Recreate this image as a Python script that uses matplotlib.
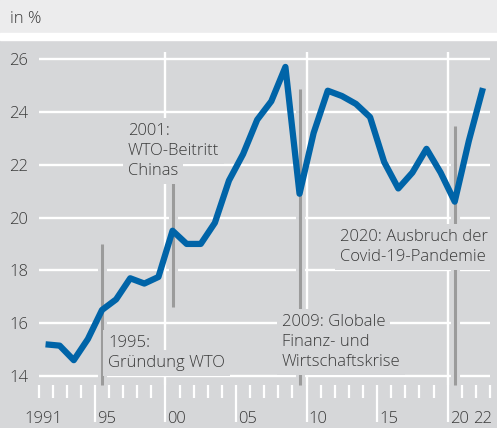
import matplotlib.pyplot as plt
import matplotlib.patheffects as pe
from matplotlib.patches import Rectangle
from matplotlib.transforms import offset_copy

years = list(range(1991, 2023))
share = [15.2, 15.15, 14.6, 15.4, 16.5, 16.9, 17.7, 17.5, 17.75, 19.5,
         19.0, 19.0, 19.8, 21.4, 22.4, 23.7, 24.4, 25.7, 20.9, 23.2,
         24.8, 24.6, 24.3, 23.8, 22.1, 21.1, 21.7, 22.6, 21.7, 20.6,
         22.9, 24.9]
yticks = [14, 16, 18, 20, 22, 24, 26]
xlabels = ['1991', '95', '00', '05', '10', '15', '20', '22']
xlabel_pos = [1991.35, 1995.15, 2000.15, 2005.15, 2010.15, 2015.15, 2020.15, 2022.5]
xlabel_ha = ['center', 'left', 'left', 'left', 'left', 'left', 'left', 'center']

# events: (x of marker line, top, bottom, text x, first baseline, lines)
events = [
    (1995.5, 19.0, 13.66, 1995.92, 15.10, ['1995:', 'Gründung WTO']),
    (2000.5, 21.34, 16.61, 1997.34, 23.12, ['2001:', 'WTO-Beitritt', 'Chinas']),
    (2009.5, 24.86, 13.66, 2008.24, 15.89, ['2009: Globale', 'Finanz- und', 'Wirtschaftskrise']),
    (2020.5, 23.46, 13.66, 2012.35, 19.11, ['2020: Ausbruch der', 'Covid-19-Pandemie']),
]

bg = '#d6d7d9'
txt = '#3a3a3a'
plt.rcParams['font.family'] = ['Open Sans', 'DejaVu Sans']
plt.rcParams['font.weight'] = 'light'

fig = plt.figure(figsize=(4.97, 4.28), dpi=100, facecolor=bg)
fig.patches.append(Rectangle((0, 1 - 33 / 428), 1, 33 / 428, transform=fig.transFigure,
                             color='#ececed', zorder=0))
fig.patches.append(Rectangle((0, 1 - 40 / 428), 1, 7 / 428, transform=fig.transFigure,
                             color='white', zorder=0))
fig.text(10 / 497, 1 - 23 / 428, 'in %', fontsize=12, color=txt, va='baseline')

ax = fig.add_axes([38.5 / 497, 1 - 385 / 428, (490 - 38.5) / 497, 333 / 428])
ax.set_facecolor(bg)
for s in ax.spines.values():
    s.set_visible(False)
ax.set_xlim(1991, 2023)
ax.set_ylim(13.66, 26.265)

for v in yticks:
    ax.axhline(v, color='white', lw=1.7, zorder=0.5)
for v in [2000, 2010, 2020]:
    ax.axvline(v, color='white', lw=1.7, zorder=0.5)

ax.set_yticks(yticks)
ax.set_yticklabels([str(v) for v in yticks])
ax.tick_params(axis='y', length=0, pad=7.5, labelsize=12, labelcolor=txt)
ax.set_xticks([1995, 2000, 2005, 2010, 2015, 2020])
ax.set_xticks(range(1991, 2024), minor=True)
ax.tick_params(axis='x', which='major', length=26.6, width=1.6, color='white', labelbottom=False)
ax.tick_params(axis='x', which='minor', length=9.4, width=1.6, color='white')

for lab, xp, ha in zip(xlabels, xlabel_pos, xlabel_ha):
    ax.text(xp, -0.114, lab, transform=ax.get_xaxis_transform(), ha=ha, va='baseline',
            fontsize=12, color=txt)

for xm, top, bot, tx, ty, lines in events:
    ax.plot([xm, xm], [bot, top], color='#9b9b9b', lw=2.2, zorder=2, solid_capstyle='butt',
            clip_on=False,
            path_effects=[pe.Stroke(linewidth=6.5, foreground=bg), pe.Normal()])
    for i, line in enumerate(lines):
        tr = offset_copy(ax.transData, fig=fig, y=-14.4 * i, units='points')
        ax.text(tx, ty, line, transform=tr, fontsize=12, color=txt, va='baseline',
                ha='left', zorder=3,
                bbox=dict(boxstyle='square,pad=0.3', fc=bg, ec='none'))

ax.plot([y + 0.5 for y in years], share, color='#0064a8', lw=4.5, zorder=5,
        solid_joinstyle='round', solid_capstyle='butt')

fig.savefig('out.png', dpi=100, facecolor=bg)
